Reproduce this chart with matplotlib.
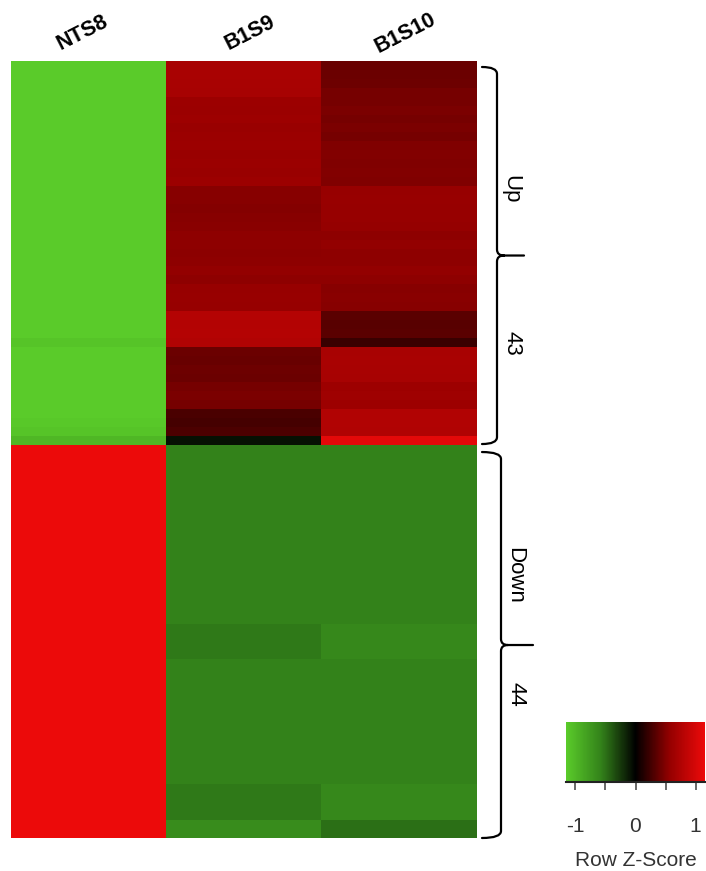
"""Row z-score heatmap, up / down regulated genes."""
import numpy as np
import matplotlib
matplotlib.use("Agg")
import matplotlib.pyplot as plt
from matplotlib.colors import LinearSegmentedColormap
from matplotlib.path import Path
from matplotlib.patches import PathPatch

plt.rcParams['font.family'] = ['Liberation Sans', 'DejaVu Sans']

samples = ["NTS8", "B1S9", "B1S10"]
n_up = 43
n_down = 44
group_labels = ["Up", "Down"]

# row z-scores (43 up rows, then 44 down rows)
nts8 = [
    -1.15, -1.15, -1.15, -1.15, -1.15, -1.15, -1.15, -1.15, -1.15, -1.15,
    -1.15, -1.15, -1.15, -1.15, -1.15, -1.15, -1.15, -1.15, -1.15, -1.15,
    -1.15, -1.15, -1.15, -1.15, -1.15, -1.15, -1.15, -1.15, -1.15, -1.15,
    -1.15, -1.10, -1.15, -1.15, -1.15, -1.15, -1.15, -1.15, -1.15, -1.15,
    -1.13, -1.10, -1.00,
    1.15, 1.15, 1.15, 1.15, 1.15, 1.15, 1.15, 1.15, 1.15, 1.15,
    1.15, 1.15, 1.15, 1.15, 1.15, 1.15, 1.15, 1.15, 1.15, 1.15,
    1.15, 1.15, 1.15, 1.15, 1.15, 1.15, 1.15, 1.15, 1.15, 1.15,
    1.15, 1.15, 1.15, 1.15, 1.15, 1.15, 1.15, 1.15, 1.15, 1.15,
    1.15, 1.15, 1.15, 1.15,
]
b1s9 = [
    0.70, 0.71, 0.70, 0.69, 0.62, 0.61, 0.63, 0.60, 0.61, 0.62,
    0.60, 0.61, 0.60, 0.62, 0.52, 0.52, 0.51, 0.52, 0.53, 0.55,
    0.55, 0.54, 0.55, 0.56, 0.55, 0.58, 0.59, 0.58, 0.78, 0.77,
    0.78, 0.76, 0.41, 0.40, 0.42, 0.41, 0.46, 0.47, 0.46, 0.28,
    0.27, 0.29, -0.08,
    -0.58, -0.58, -0.58, -0.58, -0.58, -0.58, -0.58, -0.58, -0.58, -0.58,
    -0.58, -0.58, -0.58, -0.58, -0.58, -0.58, -0.58, -0.58, -0.58, -0.58,
    -0.54, -0.54, -0.54, -0.54, -0.58, -0.58, -0.58, -0.58, -0.58, -0.58,
    -0.58, -0.58, -0.58, -0.58, -0.58, -0.58, -0.58, -0.58, -0.54, -0.54,
    -0.54, -0.54, -0.65, -0.65,
]
b1s10 = [
    0.40, 0.41, 0.42, 0.46, 0.46, 0.47, 0.46, 0.47, 0.46, 0.49,
    0.50, 0.49, 0.50, 0.49, 0.58, 0.59, 0.58, 0.58, 0.57, 0.55,
    0.56, 0.55, 0.55, 0.56, 0.55, 0.52, 0.53, 0.52, 0.35, 0.34,
    0.35, 0.22, 0.70, 0.71, 0.70, 0.69, 0.63, 0.64, 0.63, 0.76,
    0.76, 0.75, 1.10,
    -0.58, -0.58, -0.58, -0.58, -0.58, -0.58, -0.58, -0.58, -0.58, -0.58,
    -0.58, -0.58, -0.58, -0.58, -0.58, -0.58, -0.58, -0.58, -0.58, -0.58,
    -0.63, -0.63, -0.63, -0.63, -0.58, -0.58, -0.58, -0.58, -0.58, -0.58,
    -0.58, -0.58, -0.58, -0.58, -0.58, -0.58, -0.58, -0.58, -0.63, -0.63,
    -0.63, -0.63, -0.49, -0.49,
]

zlim = 1.155
cmap = LinearSegmentedColormap.from_list(
    "greenblackred",
    [(0.0, "#5ACB2A"), (0.25, "#33821A"), (0.5, "#000000"),
     (0.75, "#960000"), (1.0, "#EC0A0A")])

W, H = 706, 871
fig = plt.figure(figsize=(W / 100, H / 100), dpi=100)

hm_left, hm_top, hm_right, hm_bottom = 11, 61, 477, 838
ax = fig.add_axes([hm_left / W, 1 - hm_bottom / H,
                   (hm_right - hm_left) / W, (hm_bottom - hm_top) / H])
data = np.column_stack([nts8, b1s9, b1s10])
im = ax.imshow(data, aspect='auto', cmap=cmap, vmin=-zlim, vmax=zlim,
               interpolation='nearest')
ax.set_axis_off()

# overlay in pixel coordinates for labels and braces
ov = fig.add_axes([0, 0, 1, 1], zorder=5)
ov.set_xlim(0, W)
ov.set_ylim(H, 0)
ov.set_axis_off()

col_w = (hm_right - hm_left) / len(samples)
label_dx = [-6, 6, 6]
for i, name in enumerate(samples):
    cx = hm_left + (i + 0.5) * col_w + label_dx[i]
    ov.text(cx, 33, name, rotation=27, ha='center', va='center',
            fontsize=15.5, fontweight='bold', rotation_mode='anchor')

row_h = (hm_bottom - hm_top) / (n_up + n_down)
sections = [(hm_top, hm_top + n_up * row_h),
            (hm_top + n_up * row_h, hm_bottom)]
counts = [n_up, n_down]
brace_x = [497, 501]
tip_x = [524, 533]
word_off = [-66, -70]
num_off = [88, 49]


def brace(y0, y1, xl, xh, xt):
    ym = (y0 + y1) / 2
    verts = [(xh, y0), (xl, y0), (xl, y0 + 7),
             (xl, ym - 6), (xl, ym), (xl + 7, ym),
             (xt, ym),
             (xl + 7, ym), (xl, ym), (xl, ym + 6),
             (xl, y1 - 7), (xl, y1), (xh, y1)]
    codes = [Path.MOVETO, Path.CURVE3, Path.CURVE3,
             Path.LINETO, Path.CURVE3, Path.CURVE3,
             Path.LINETO,
             Path.MOVETO, Path.CURVE3, Path.CURVE3,
             Path.LINETO, Path.CURVE3, Path.CURVE3]
    return PathPatch(Path(verts, codes), fill=False, lw=1.6,
                     edgecolor='black', capstyle='round')


for k, (s0, s1) in enumerate(sections):
    y0, y1 = s0 + 6, s1 - 1 if k == 0 else s1
    if k == 1:
        y0 = s0 + 7
    ov.add_patch(brace(y0, y1, brace_x[k], 482, tip_x[k]))
    ymid = (y0 + y1) / 2
    ov.text(brace_x[k] + 14, ymid + word_off[k], group_labels[k],
            rotation=-90, ha='center', va='center', fontsize=16)
    ov.text(brace_x[k] + 15, ymid + num_off[k], str(counts[k]),
            rotation=-90, ha='center', va='center', fontsize=16)

# colour key
cax = fig.add_axes([566 / W, 1 - 782 / H, 139 / W, 60 / H])
cb = fig.colorbar(im, cax=cax, orientation='horizontal')
cb.outline.set_visible(False)
cb.set_ticks([-1, -0.5, 0, 0.5, 1])
cb.set_ticklabels(['-1', '', '0', '', '1'])
cax.tick_params(axis='x', length=6, width=1.1, color='#404040',
                labelcolor='#333333', labelsize=15, pad=19)
cax.axhline(0, color='#222222', lw=1.5, clip_on=False)
cax.set_xlabel('Row Z-Score', fontsize=15, color='#333333', labelpad=11)

fig.savefig("out.png", dpi=100)
